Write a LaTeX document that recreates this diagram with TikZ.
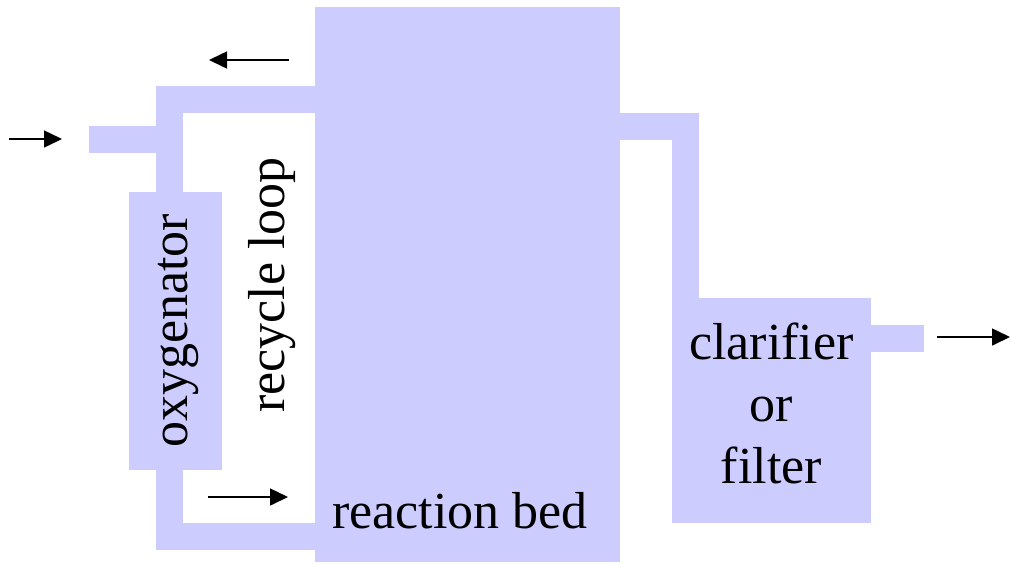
\documentclass[tikz,border=0pt]{standalone}
\usepackage{fontspec}
\setmainfont{Liberation Serif}
\usetikzlibrary{arrows.meta,fit}
\definecolor{unit}{HTML}{CCCCFF}
\tikzset{
  unitbox/.style={fill=unit, draw=none, inner sep=0pt, outer sep=0pt},
  pipe/.style={draw=unit, line width=13.5pt, line cap=butt, line join=miter},
  flow/.style={draw=black, line width=0.8pt, -{Triangle[length=9pt,width=8.5pt]}},
  lbl/.style={font=\fontsize{26}{31}\selectfont, inner sep=0pt, align=center}
}
\begin{document}
\begin{tikzpicture}[x=0.5pt, y=-0.5pt]
  \useasboundingbox (0,0) rectangle (1010,563);

  % process units
  \node[unitbox, fit={(315,7) (620,562)}] (bed) {};
  \node[unitbox, fit={(129,192) (222,470)}] (oxy) {};
  \node[unitbox, fit={(672,298) (871,523)}] (clar) {};

  % pipe corners and free pipe ends
  \coordinate (inlet) at (89,139.5);
  \coordinate (outlet) at (924,338.5);
  \coordinate (topbend) at (169.5,99.5);
  \coordinate (botbend) at (169.5,536);
  \coordinate (rightbend) at (685.5,126.5);

  % pipes
  \draw[pipe] (bed.west |- topbend) -- (topbend) -- (oxy.north -| topbend);
  \draw[pipe] (inlet) -- (inlet -| topbend);
  \draw[pipe] (oxy.south -| botbend) -- (botbend) -- (bed.west |- botbend);
  \draw[pipe] (bed.east |- rightbend) -- (rightbend) -- (clar.north -| rightbend);
  \draw[pipe] (clar.east |- outlet) -- (outlet);

  % labels
  \node[lbl, rotate=90] (oxylbl) at ([xshift=1.5pt]oxy.center) {oxygenator};
  \node[lbl, rotate=90] (looplbl) at (272,285) {recycle loop};
  \node[lbl, anchor=base] (bedlbl) at (460,528) {reaction bed};
  \node[lbl] (clarlbl) at (771.5,403) {clarifier\\or\\filter};

  % flow direction arrows
  \coordinate (inA) at (9,139);
  \coordinate (inB) at (62,139);
  \coordinate (topA) at (289,60);
  \coordinate (topB) at (209,60);
  \coordinate (botA) at (208,497);
  \coordinate (botB) at (288,497);
  \coordinate (outA) at (937,337);
  \coordinate (outB) at (1010,337);
  \draw[flow] (inA) -- (inB);
  \draw[flow] (topA) -- (topB);
  \draw[flow] (botA) -- (botB);
  \draw[flow] (outA) -- (outB);
\end{tikzpicture}
\end{document}
